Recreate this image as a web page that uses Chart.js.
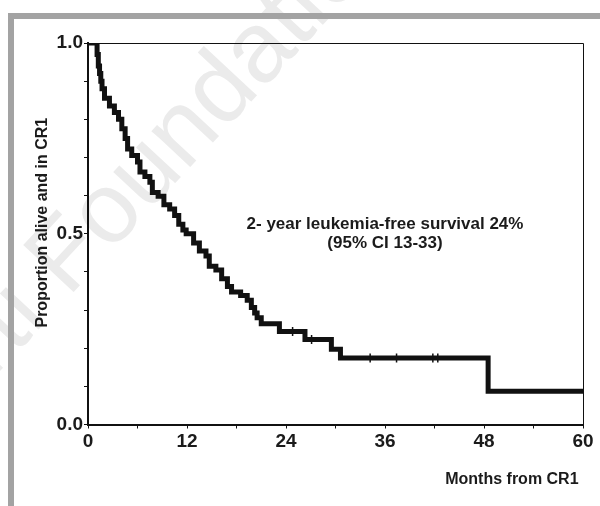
<!DOCTYPE html>
<html><head><meta charset="utf-8">
<script src="https://cdn.jsdelivr.net/npm/chart.js@4.4.1/dist/chart.umd.min.js"></script>
<style>html,body{margin:0;padding:0;background:#fff;overflow:hidden;}canvas{display:block;}</style>
</head><body>
<canvas id="c" width="600" height="506"></canvas>
<script>
// ---- data ----
const months   = [0, 1.1, 1.25, 1.4, 1.55, 1.7, 2.0, 2.6, 3.2, 3.7, 4.1, 4.5, 4.8, 5.3, 6.0, 6.3, 6.9, 7.5, 7.8, 8.5, 9.2, 9.9, 10.5, 11.0, 11.5, 11.9, 12.8, 13.5, 14.3, 14.7, 15.5, 16.2, 16.9, 17.4, 18.5, 19.3, 19.8, 20.2, 20.5, 21.0, 23.2, 26.3, 29.5, 30.6, 48.5, 60];
const survival = [1.0, 0.97, 0.94, 0.92, 0.90, 0.88, 0.855, 0.835, 0.818, 0.80, 0.775, 0.75, 0.722, 0.705, 0.688, 0.662, 0.65, 0.635, 0.608, 0.598, 0.576, 0.565, 0.548, 0.525, 0.51, 0.50, 0.476, 0.455, 0.442, 0.415, 0.405, 0.382, 0.362, 0.347, 0.338, 0.326, 0.307, 0.292, 0.28, 0.264, 0.244, 0.223, 0.197, 0.174, 0.087, 0.087];
const censorMonths   = [24.8, 27.1, 34.2, 37.4, 41.8, 42.4];
const censorSurvival = [0.244, 0.223, 0.174, 0.174, 0.174, 0.174];
const xLabelTicks = [0, 12, 24, 36, 48, 60];
const yLabelTicks = [0.0, 0.5, 1.0];
const xTitle = 'Months from CR1';
const yTitle = 'Proportion alive and in CR1';
const noteLines = ['2- year leukemia-free survival 24%', '(95% CI 13-33)'];
const notePosition = {month: 36, survival: 0.525};
const watermarkText = 'Ferrata Storti Foundation';

const FONT = "'Liberation Sans', Arial, sans-serif";
const INK = '#1b1b1b';

const kmPoints = months.map((m, i) => ({x: m, y: survival[i]}));
const censorPoints = censorMonths.map((m, i) => ({x: m, y: censorSurvival[i]}));

const framePlugin = {
  id: 'frame',
  beforeDraw(chart) {
    const ctx = chart.ctx;
    ctx.save();
    ctx.fillStyle = '#ffffff';
    ctx.fillRect(0, 0, chart.width, chart.height);
    // watermark
    ctx.save();
    ctx.font = '100px ' + FONT;
    ctx.fillStyle = '#ebebeb';
    const pre = ctx.measureText('Ferrata Storti ').width;
    ctx.translate(68, 298);
    ctx.rotate(-47 * Math.PI / 180);
    ctx.textBaseline = 'alphabetic';
    ctx.fillText(watermarkText, -pre, 0);
    ctx.restore();
    // grey frame
    ctx.fillStyle = '#a3a3a3';
    ctx.fillRect(8, 13, 600 - 8, 6);
    ctx.fillRect(8, 13, 6, chart.height - 13);
    ctx.restore();
  },
  beforeDatasetsDraw(chart) {
    const {ctx, chartArea: a} = chart;
    ctx.save();
    ctx.strokeStyle = '#111';
    ctx.lineWidth = 1;
    ctx.beginPath();
    ctx.moveTo(a.left, Math.round(a.top) + 0.5);
    ctx.lineTo(Math.round(a.right) + 0.5, Math.round(a.top) + 0.5);
    ctx.lineTo(Math.round(a.right) + 0.5, a.bottom);
    ctx.stroke();
    ctx.restore();
  },
  afterDraw(chart) {
    const ctx = chart.ctx;
    const xs = chart.scales.x, ys = chart.scales.y;
    const cx = xs.getPixelForValue(notePosition.month);
    const cy = ys.getPixelForValue(notePosition.survival);
    ctx.save();
    ctx.fillStyle = INK;
    ctx.font = 'bold 17px ' + FONT;
    ctx.textAlign = 'center';
    ctx.textBaseline = 'middle';
    noteLines.forEach((t, i) => ctx.fillText(t, cx, cy + i * 19));
    ctx.restore();
  }
};

new Chart(document.getElementById('c'), {
  type: 'line',
  data: {
    datasets: [
      {
        label: 'Leukemia-free survival',
        data: kmPoints,
        stepped: 'before',
        borderColor: '#111111',
        borderWidth: 5,
        borderJoinStyle: 'miter',
        borderCapStyle: 'butt',
        pointRadius: 0,
        fill: false,
        tension: 0
      },
      {
        label: 'Censored',
        type: 'scatter',
        data: censorPoints,
        pointStyle: 'line',
        rotation: 90,
        radius: 4.5,
        borderWidth: 1.5,
        borderColor: '#111111',
        backgroundColor: '#111111'
      }
    ]
  },
  options: {
    responsive: false,
    animation: false,
    devicePixelRatio: 1,
    layout: {padding: {top: 43, right: 17, left: 33, bottom: 16}},
    plugins: {legend: {display: false}, tooltip: {enabled: false}},
    scales: {
      x: {
        type: 'linear',
        min: 0, max: 60,
        afterFit(scale) { scale.height = 506 - 16 - 424.5; },
        border: {display: true, color: '#111', width: 2},
        grid: {display: true, drawOnChartArea: false, drawTicks: true, tickLength: 4, color: '#111', tickColor: '#111'},
        ticks: {
          stepSize: 6, autoSkip: false, maxRotation: 0, padding: 2,
          color: INK, font: {family: FONT, size: 19, weight: 'bold'},
          callback: (v) => xLabelTicks.includes(Math.round(v)) && Math.abs(v - Math.round(v)) < 1e-6 ? String(Math.round(v)) : ''
        },
        title: {display: true, text: xTitle + ' ', align: 'end', color: INK,
                font: {family: FONT, size: 16, weight: 'bold'}, padding: {top: 0, bottom: 1}}
      },
      y: {
        type: 'linear',
        min: 0, max: 1,
        afterFit(scale) { scale.width = 88 - 33; },
        border: {display: true, color: '#111', width: 2},
        grid: {display: true, drawOnChartArea: false, drawTicks: true, tickLength: 4, color: '#111', tickColor: '#111'},
        ticks: {
          stepSize: 0.1, autoSkip: false, padding: 1,
          color: INK, font: {family: FONT, size: 19, weight: 'bold'},
          callback: (v) => yLabelTicks.some(t => Math.abs(t - v) < 1e-6) ? v.toFixed(1) : ''
        },
        title: {display: true, text: '     ' + yTitle, color: INK,
                font: {family: FONT, size: 16, weight: 'bold'}, padding: {top: 0, bottom: 0}}
      }
    }
  },
  plugins: [framePlugin]
});
</script>
</body></html>
